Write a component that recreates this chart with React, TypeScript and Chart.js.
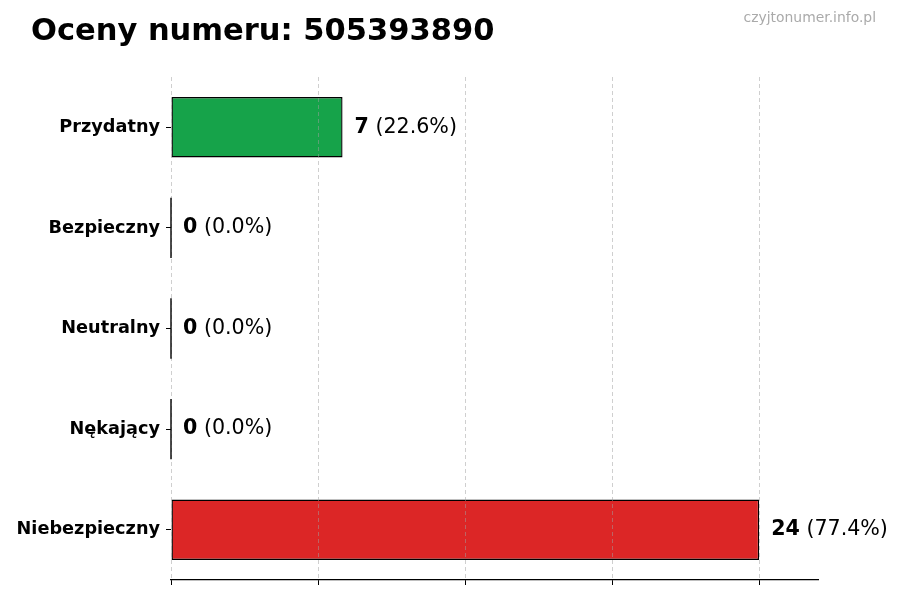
import { useEffect, useRef } from 'react';
import { Chart, registerables, type ChartConfiguration, type Plugin } from 'chart.js';

Chart.register(...registerables);

const TITLE = 'Oceny numeru: 505393890';
const WATERMARK = 'czyjtonumer.info.pl';

const CATEGORIES = ['Przydatny', 'Bezpieczny', 'Neutralny', 'Nękający', 'Niebezpieczny'];
const COUNTS = [7, 0, 0, 0, 24];
const BAR_COLORS = [
  'rgba(22, 163, 74, 1)',
  'rgba(37, 99, 235, 1)',
  'rgba(107, 114, 128, 1)',
  'rgba(234, 88, 12, 1)',
  'rgba(220, 38, 38, 1)',
];
const X_TICKS = [0, 6, 12, 18, 24];

const FONT = '"DejaVu Sans", sans-serif';

// title + watermark + "n (pct%)" labels next to each bar
const annotate: Plugin<'bar'> = {
  id: 'annotate',
  afterDraw(chart) {
    const { ctx } = chart;
    ctx.save();
    ctx.fillStyle = '#000';
    ctx.textAlign = 'left';
    ctx.textBaseline = 'alphabetic';
    ctx.font = `bold 30.5px ${FONT}`;
    ctx.fillText(TITLE, 31, 40);

    ctx.fillStyle = '#aaaaaa';
    ctx.textAlign = 'right';
    ctx.font = `13.9px ${FONT}`;
    ctx.fillText(WATERMARK, 876, 22);

    const total = COUNTS.reduce((a, b) => a + b, 0);
    const meta = chart.getDatasetMeta(0);
    ctx.textAlign = 'left';
    ctx.textBaseline = 'middle';
    meta.data.forEach((bar, i) => {
      const { x, y, base, height } = bar.getProps(['x', 'y', 'base', 'height'], true) as {
        x: number; y: number; base: number; height: number;
      };
      if (COUNTS[i] === 0) {
        ctx.strokeStyle = '#000';
        ctx.lineWidth = 1.4;
        ctx.beginPath();
        ctx.moveTo(base, y - height / 2);
        ctx.lineTo(base, y + height / 2);
        ctx.stroke();
      }
      const pct = total ? (COUNTS[i] / total) * 100 : 0;
      const tx = Math.max(x, base) + 12;
      ctx.fillStyle = '#000';
      ctx.font = `bold 20.6px ${FONT}`;
      const num = String(COUNTS[i]);
      ctx.fillText(num, tx, y);
      const w = ctx.measureText(num).width;
      ctx.font = `20.6px ${FONT}`;
      ctx.fillText(` (${pct.toFixed(1)}%)`, tx + w, y);
    });
    ctx.restore();
  },
};

export default function App() {
  const canvasRef = useRef<HTMLCanvasElement | null>(null);

  useEffect(() => {
    const canvas = canvasRef.current;
    if (!canvas) return;

    const config: ChartConfiguration<'bar'> = {
      type: 'bar',
      data: {
        labels: CATEGORIES,
        datasets: [
          {
            data: COUNTS,
            backgroundColor: BAR_COLORS,
            borderColor: '#000',
            borderWidth: 1.4,
            borderSkipped: false,
            barPercentage: 0.6,
            categoryPercentage: 1,
          },
        ],
      },
      options: {
        indexAxis: 'y',
        animation: false,
        responsive: true,
        maintainAspectRatio: false,
        layout: { padding: { left: 0, right: 82, top: 77, bottom: 0 } },
        plugins: {
          legend: { display: false },
          tooltip: { enabled: false },
          title: { display: false },
        },
        scales: {
          x: {
            type: 'linear',
            min: 0,
            max: Math.max(...COUNTS) * 1.1,
            afterBuildTicks: (scale) => {
              scale.ticks = X_TICKS.map((value) => ({ value }));
            },
            afterFit: (scale) => {
              scale.height = 20;
            },
            ticks: { display: false },
            grid: {
              z: 1, // dashed grid drawn over the bars
              color: 'rgba(160, 160, 160, 0.5)',
              lineWidth: 1,
              drawTicks: true,
              tickLength: 5,
              tickColor: '#000',
              tickWidth: 1,
            },
            border: { display: true, color: '#000', width: 1.2, dash: [4, 3], z: 1 },
          },
          y: {
            afterFit: (scale) => {
              scale.width = 171;
            },
            ticks: {
              color: '#000',
              padding: 6,
              font: { family: FONT, size: 17.7, weight: 'bold' },
            },
            grid: {
              offset: false,
              drawOnChartArea: false,
              drawTicks: true,
              tickLength: 5,
              tickColor: '#000',
              tickWidth: 1,
            },
            border: { display: false },
          },
        },
      },
      plugins: [annotate],
    };

    const chart = new Chart(canvas, config);
    return () => chart.destroy();
  }, []);

  return (
    <div style={{ position: 'fixed', left: 0, top: 0, width: 900, height: 600, background: '#fff' }}>
      <canvas ref={canvasRef} role='img' aria-label={TITLE} />
    </div>
  );
}
